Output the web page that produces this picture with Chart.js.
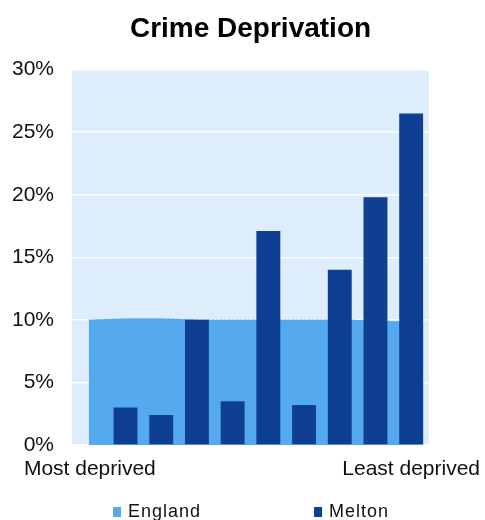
<!DOCTYPE html>
<html>
<head>
<meta charset="utf-8">
<script src="https://cdn.jsdelivr.net/npm/chart.js@4"></script>
<style>
  html, body { margin: 0; padding: 0; background: #fff; }
  #wrap { width: 485px; height: 520px; }
</style>
</head>
<body>
<div id="wrap"><canvas id="crime"></canvas></div>
<script>
// deciles, most deprived (1) -> least deprived (10)
const deciles = [1, 2, 3, 4, 5, 6, 7, 8, 9, 10];
const decileLabels = ['Most deprived', '', '', '', '', '', '', '', '', 'Least deprived'];
const englandValues = [10.0, 10.1, 10.1, 10.0, 10.0, 10.0, 10.0, 10.0, 9.9, 9.8];
const meltonValues = [0, 3.0, 2.4, 10.0, 3.5, 17.1, 3.2, 14.0, 19.8, 26.5];
const yTicks = [0, 5, 10, 15, 20, 25, 30];

const textColor = '#111';
const fontFamily = '"Liberation Sans", Arial, sans-serif';

// light blue plot background
const plotBg = {
  id: 'plotBg',
  beforeDraw(chart) {
    const a = chart.chartArea;
    const ctx = chart.ctx;
    ctx.save();
    ctx.fillStyle = '#DDEDFB';
    ctx.fillRect(a.left, a.top, a.right - a.left, a.bottom - a.top);
    ctx.restore();
  }
};

// legend drawn at the bottom, spaced like the original
const bottomLegend = {
  id: 'bottomLegend',
  afterDraw(chart) {
    const ctx = chart.ctx;
    let x = 113;
    ctx.save();
    ctx.font = '18px ' + fontFamily;
    ctx.letterSpacing = '1px';
    ctx.textBaseline = 'alphabetic';
    chart.data.datasets.forEach(ds => {
      ctx.fillStyle = ds.legendColor;
      ctx.fillRect(x, 507, 8, 10);
      ctx.fillStyle = textColor;
      ctx.fillText(ds.label, x + 15, 517);
      x += 15 + ctx.measureText(ds.label).width + 113;
    });
    ctx.restore();
  }
};

const ctx = document.getElementById('crime').getContext('2d');
const crimeChart = new Chart(ctx, {
  data: {
    labels: decileLabels,
    datasets: [{
      type: 'line',
      label: 'England',
      data: deciles.map((d, i) => ({x: d, y: englandValues[i]})),
      xAxisID: 'x2',
      backgroundColor: '#55AAEE',
      legendColor: '#55AAEE',
      borderColor: '#4A9BE0',
      borderWidth: 1,
      borderDash: [1, 3],
      fill: 'origin',
      pointRadius: 0,
      tension: 0,
      order: 2
    }, {
      type: 'bar',
      label: 'Melton',
      data: meltonValues,
      xAxisID: 'x',
      backgroundColor: '#0F3F93',
      legendColor: '#0F3F93',
      grouped: false,
      categoryPercentage: 1,
      barPercentage: 0.67,
      order: 1
    }]
  },
  options: {
    responsive: true,
    maintainAspectRatio: false,
    animation: false,
    layout: { padding: { left: 0, right: 0, top: 0, bottom: 38 } },
    plugins: {
      legend: { display: false },
      tooltip: { enabled: false },
      title: {
        display: true,
        fullSize: false,
        text: 'Crime Deprivation',
        color: '#000',
        font: { family: fontFamily, size: 28, weight: 'bold' },
        padding: { top: 12, bottom: 24 }
      }
    },
    scales: {
      x: {
        type: 'category',
        offset: true,
        afterFit(scale) {
          scale.height = 37;
          scale.paddingLeft = 0;
          scale.paddingRight = 56;
        },
        grid: { display: false, drawTicks: false },
        border: { display: false },
        ticks: {
          autoSkip: false,
          maxRotation: 0,
          minRotation: 0,
          padding: 12,
          color: textColor,
          font: { family: fontFamily, size: 21 }
        }
      },
      x2: {
        type: 'linear',
        display: false,
        min: 0.55,
        max: 10.15
      },
      y: {
        min: 0,
        max: 30,
        afterFit(scale) { scale.width = 72; },
        afterBuildTicks(scale) { scale.ticks = yTicks.map(v => ({value: v})); },
        grid: { color: '#FFFFFF', lineWidth: 1.5, drawTicks: false },
        border: { display: false },
        ticks: {
          padding: 18,
          color: textColor,
          font: { family: fontFamily, size: 21 },
          callback: v => v + '%'
        }
      }
    }
  },
  plugins: [plotBg, bottomLegend]
});
</script>
</body>
</html>
